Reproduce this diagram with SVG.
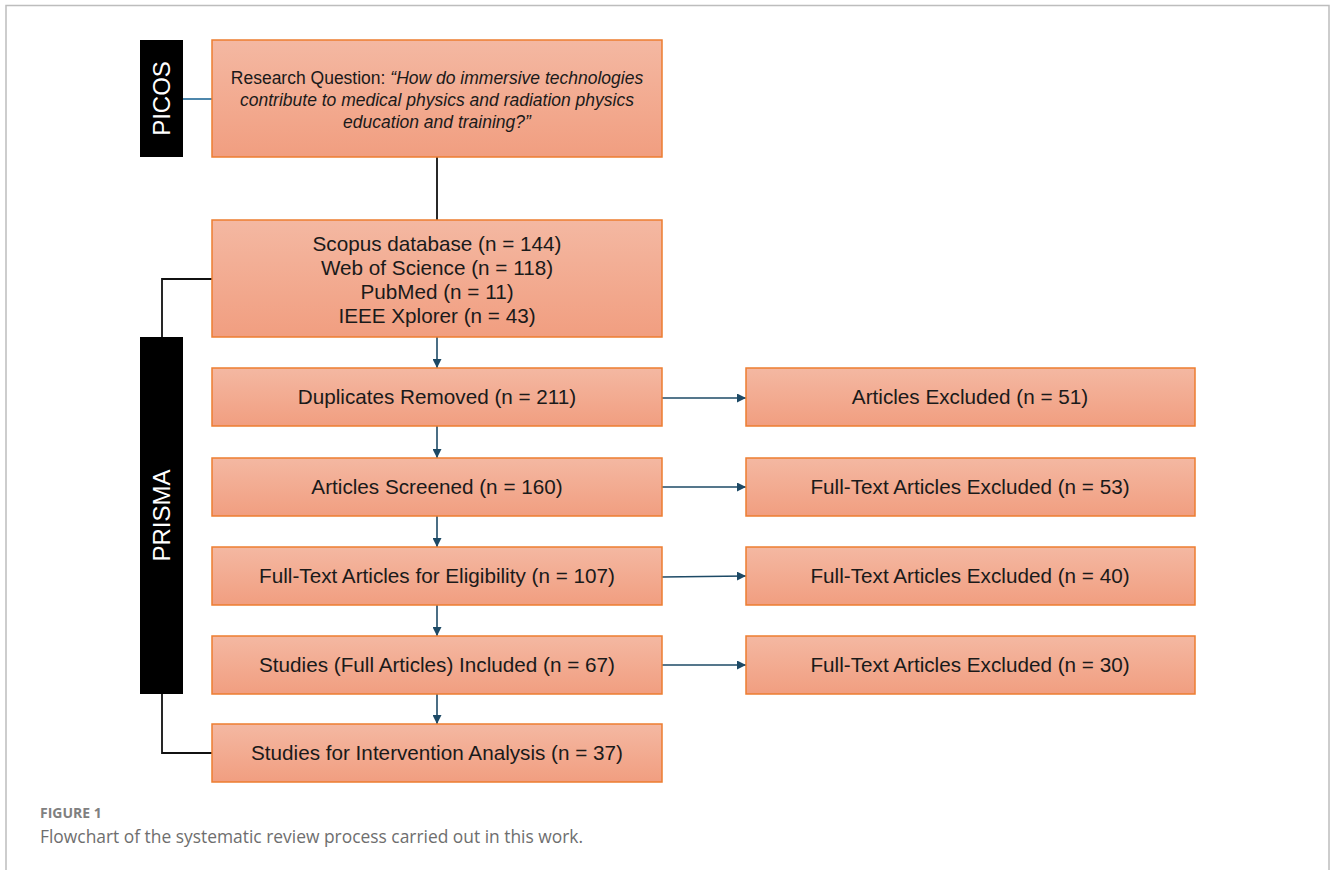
<svg xmlns="http://www.w3.org/2000/svg" width="1332" height="870" viewBox="0 0 1332 870">
<defs>
<linearGradient id="boxg" x1="0" y1="0" x2="0" y2="1">
<stop offset="0" stop-color="#f4b8a2"/>
<stop offset="1" stop-color="#f19e80"/>
</linearGradient>
<marker id="ah" viewBox="0 0 10 10" refX="10" refY="5" markerWidth="9" markerHeight="9" markerUnits="userSpaceOnUse" orient="auto">
<path d="M0,0 L10,5 L0,10 z" fill="#1d4a66"/>
</marker>
</defs>
<style>
.box{fill:url(#boxg);stroke:#ed7d31;stroke-width:1.5}
.side{fill:#000}
.t{font-family:"Liberation Sans",Arial,sans-serif;font-size:20.7px;fill:#1a1a1a;text-anchor:middle}
.q{font-family:"Liberation Sans",Arial,sans-serif;font-size:17.5px;fill:#1a1a1a;text-anchor:middle}
.side-t{font-family:"Liberation Sans",Arial,sans-serif;font-size:24px;fill:#fff;text-anchor:middle}
.arr{stroke:#1d4a66;stroke-width:1.6;fill:none;marker-end:url(#ah)}
.blk{stroke:#111;stroke-width:1.8;fill:none}
.cap1{font-family:"Open Sans",sans-serif;font-size:14px;font-weight:bold;fill:#808080}
.cap2{font-family:"Open Sans",sans-serif;font-size:17.4px;fill:#6e6e6e}
</style>
<rect width="1332" height="870" fill="#fff"/>
<path d="M6,870 V5.5 H1329 V870" fill="none" stroke="#bdbdbd" stroke-width="1.5"/>

<g id="connectors">
<line x1="183" y1="99" x2="212" y2="99" stroke="#3a7aa3" stroke-width="1.8"/>
<line class="blk" x1="437" y1="157" x2="437" y2="220"/>
<polyline class="blk" points="212,279 162,279 162,337"/>
<polyline class="blk" points="162,694 162,753 212,753"/>
<line class="arr" x1="437" y1="337" x2="437" y2="368"/>
<line class="arr" x1="437" y1="426" x2="437" y2="458"/>
<line class="arr" x1="437" y1="516" x2="437" y2="547"/>
<line class="arr" x1="437" y1="605" x2="437" y2="636"/>
<line class="arr" x1="437" y1="694" x2="437" y2="724"/>
<line class="arr" x1="662" y1="398" x2="746" y2="398"/>
<line class="arr" x1="662" y1="487" x2="746" y2="487"/>
<line class="arr" x1="662" y1="577" x2="746" y2="576"/>
<line class="arr" x1="662" y1="665" x2="746" y2="665"/>
</g>

<g id="picos">
<rect class="side" x="140" y="40" width="43" height="117"/>
<text class="side-t" transform="translate(170,98.5) rotate(-90)">PICOS</text>
</g>
<g id="prisma">
<rect class="side" x="140" y="337" width="43" height="357"/>
<text class="side-t" transform="translate(170,515.5) rotate(-90)">PRISMA</text>
</g>

<g id="question">
<rect class="box" x="212" y="40" width="450" height="117"/>
<text class="q" x="437" y="84">Research Question: <tspan font-style="italic">“How do immersive technologies</tspan></text>
<text class="q" x="437" y="106" font-style="italic">contribute to medical physics and radiation physics</text>
<text class="q" x="437" y="128" font-style="italic">education and training?”</text>
</g>

<g id="databases">
<rect class="box" x="212" y="220" width="450" height="117"/>
<text class="t" x="437" y="251">Scopus database (n = 144)</text>
<text class="t" x="437" y="275">Web of Science (n = 118)</text>
<text class="t" x="437" y="299">PubMed (n = 11)</text>
<text class="t" x="437" y="323">IEEE Xplorer (n = 43)</text>
</g>

<g id="duplicates">
<rect class="box" x="212" y="368" width="450" height="58"/>
<text class="t" x="437" y="404">Duplicates Removed (n = 211)</text>
</g>
<g id="screened">
<rect class="box" x="212" y="458" width="450" height="58"/>
<text class="t" x="437" y="494">Articles Screened (n = 160)</text>
</g>
<g id="eligibility">
<rect class="box" x="212" y="547" width="450" height="58"/>
<text class="t" x="437" y="583">Full-Text Articles for Eligibility (n = 107)</text>
</g>
<g id="included">
<rect class="box" x="212" y="636" width="450" height="58"/>
<text class="t" x="437" y="672">Studies (Full Articles) Included (n = 67)</text>
</g>
<g id="intervention">
<rect class="box" x="212" y="724" width="450" height="58"/>
<text class="t" x="437" y="760">Studies for Intervention Analysis (n = 37)</text>
</g>

<g id="excl51">
<rect class="box" x="746" y="368" width="449" height="58"/>
<text class="t" x="970" y="404">Articles Excluded (n = 51)</text>
</g>
<g id="excl53">
<rect class="box" x="746" y="458" width="449" height="58"/>
<text class="t" x="970" y="494">Full-Text Articles Excluded (n = 53)</text>
</g>
<g id="excl40">
<rect class="box" x="746" y="547" width="449" height="58"/>
<text class="t" x="970" y="583">Full-Text Articles Excluded (n = 40)</text>
</g>
<g id="excl30">
<rect class="box" x="746" y="636" width="449" height="58"/>
<text class="t" x="970" y="672">Full-Text Articles Excluded (n = 30)</text>
</g>

<g id="caption">
<text class="cap1" x="40" y="818">FIGURE 1</text>
<text class="cap2" x="40" y="843">Flowchart of the systematic review process carried out in this work.</text>
</g>
</svg>
